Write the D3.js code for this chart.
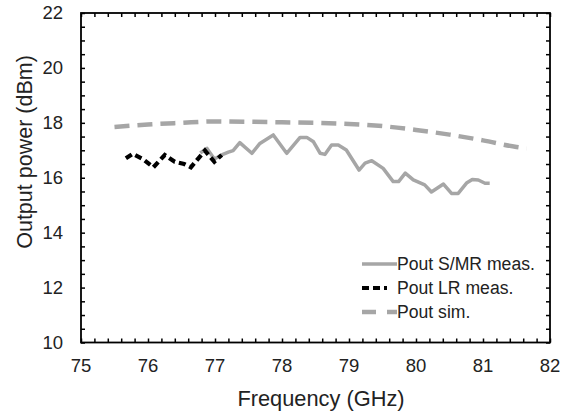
<!DOCTYPE html>
<html><head><meta charset="utf-8">
<script src="https://cdn.jsdelivr.net/npm/d3@7"></script>
<style>body{margin:0;background:#fff}svg{display:block;font-family:"Liberation Sans",Arial,sans-serif}</style>
</head><body>
<script>
// Data
const smrFreq = [76.78, 76.88, 76.99, 77.10, 77.20, 77.27, 77.37, 77.55, 77.67, 77.87, 78.07, 78.27, 78.37, 78.47, 78.57, 78.64, 78.74, 78.84, 78.96, 79.15, 79.24, 79.34, 79.51, 79.66, 79.74, 79.84, 79.96, 80.13, 80.23, 80.41, 80.53, 80.63, 80.76, 80.84, 80.93, 81.03, 81.10];
const smrPout = [16.90, 17.07, 16.68, 16.83, 16.93, 16.99, 17.28, 16.89, 17.25, 17.56, 16.89, 17.47, 17.47, 17.31, 16.89, 16.85, 17.19, 17.19, 17.01, 16.28, 16.53, 16.62, 16.34, 15.86, 15.86, 16.17, 15.92, 15.74, 15.48, 15.77, 15.43, 15.43, 15.82, 15.94, 15.92, 15.80, 15.80];
const lrFreq = [75.67, 75.77, 75.93, 76.08, 76.25, 76.40, 76.54, 76.64, 76.85, 76.99, 77.10];
const lrPout = [16.71, 16.87, 16.67, 16.38, 16.83, 16.58, 16.50, 16.38, 16.99, 16.58, 16.83];
const simFreq = [75.5, 76.0, 76.5, 77.0, 77.5, 78.0, 78.5, 79.0, 79.5, 80.0, 80.5, 81.0, 81.5, 81.65];
const simPout = [17.85, 17.94, 18.0, 18.05, 18.04, 18.02, 18.0, 17.96, 17.88, 17.74, 17.57, 17.36, 17.12, 17.07];
const xTickLabels = [75, 76, 77, 78, 79, 80, 81, 82];
const yTickLabels = [10, 12, 14, 16, 18, 20, 22];
const legendLabels = ["Pout S/MR meas.", "Pout LR meas.", "Pout sim."];

const W = 572, H = 416;
const m = {l: 81, r: 22, t: 13, b: 73.5};
const svg = d3.select("body").append("svg").attr("width", W).attr("height", H);
const x = d3.scaleLinear().domain([75, 82]).range([m.l, W - m.r]);
const y = d3.scaleLinear().domain([10, 22]).range([H - m.b, m.t]);
const gray = "#a6a6a6";

// ticks inward on all four sides
const xMinor = d3.range(75, 82.001, 0.2);
const yMinor = d3.range(10, 22.001, 0.5);
const tl = 4;
svg.append("g").attr("transform", `translate(0,${y(10)})`)
  .call(d3.axisBottom(x).tickValues(xMinor).tickSize(-tl).tickFormat("").tickSizeOuter(0))
  .call(g => g.select(".domain").remove());
svg.append("g").attr("transform", `translate(0,${y(22)})`)
  .call(d3.axisTop(x).tickValues(xMinor).tickSize(-tl).tickFormat("").tickSizeOuter(0))
  .call(g => g.select(".domain").remove());
svg.append("g").attr("transform", `translate(${x(75)},0)`)
  .call(d3.axisLeft(y).tickValues(yMinor).tickSize(-tl).tickFormat("").tickSizeOuter(0))
  .call(g => g.select(".domain").remove());
svg.append("g").attr("transform", `translate(${x(82)},0)`)
  .call(d3.axisRight(y).tickValues(yMinor).tickSize(-tl).tickFormat("").tickSizeOuter(0))
  .call(g => g.select(".domain").remove());
svg.selectAll(".tick line").attr("stroke", "#000").attr("stroke-width", 1.5);

// frame
svg.append("rect").attr("x", x(75)).attr("y", y(22))
  .attr("width", x(82) - x(75)).attr("height", y(10) - y(22))
  .attr("fill", "none").attr("stroke", "#000").attr("stroke-width", 1.8);

// tick labels
svg.append("g").selectAll("text").data(xTickLabels).join("text")
  .attr("x", d => x(d)).attr("y", y(10) + 29).attr("text-anchor", "middle")
  .attr("font-size", 18.5).attr("fill", "#222").text(d => d);
svg.append("g").selectAll("text").data(yTickLabels).join("text")
  .attr("x", m.l - 18).attr("y", d => y(d)).attr("dy", "0.35em").attr("text-anchor", "end")
  .attr("font-size", 18.5).attr("fill", "#222").text(d => d);

// axis titles
svg.append("text").attr("x", 321).attr("y", 406).attr("text-anchor", "middle")
  .attr("font-size", 21.8).attr("fill", "#222").text("Frequency (GHz)");
svg.append("text").attr("transform", "translate(32,152) rotate(-90)").attr("text-anchor", "middle")
  .attr("font-size", 21.5).attr("fill", "#222").text("Output power (dBm)");

const line = d3.line().x(d => x(d[0])).y(d => y(d[1]));
const smr = smrFreq.map((f, i) => [f, smrPout[i]]);
const lr = lrFreq.map((f, i) => [f, lrPout[i]]);
const sim = simFreq.map((f, i) => [f, simPout[i]]);
const simLine = d3.line().curve(d3.curveMonotoneX).x(d => x(d[0])).y(d => y(d[1]));

svg.append("path").attr("d", simLine(sim)).attr("fill", "none").attr("stroke", gray)
  .attr("stroke-width", 4.5).attr("stroke-dasharray", "15,8");
svg.append("path").attr("d", line(smr)).attr("fill", "none").attr("stroke", gray)
  .attr("stroke-width", 3.5).attr("stroke-linejoin", "round");
svg.append("path").attr("d", line(lr)).attr("fill", "none").attr("stroke", "#000")
  .attr("stroke-width", 4.2).attr("stroke-dasharray", "7,4");

// legend
const lg = svg.append("g");
const styles = [
  {stroke: gray, w: 3.5, dash: null},
  {stroke: "#000", w: 4.2, dash: "7,4,7,4,3,10"},
  {stroke: gray, w: 4.5, dash: "14,11,10,10"}
];
legendLabels.forEach((t, i) => {
  const yy = 264 + i * 24;
  lg.append("line").attr("x1", 362).attr("x2", 397).attr("y1", yy).attr("y2", yy)
    .attr("stroke", styles[i].stroke).attr("stroke-width", styles[i].w)
    .attr("stroke-dasharray", styles[i].dash);
  lg.append("text").attr("x", 397).attr("y", yy).attr("dy", "0.36em")
    .attr("font-size", 17.6).attr("fill", "#222").text(t);
});
</script>
</body></html>
